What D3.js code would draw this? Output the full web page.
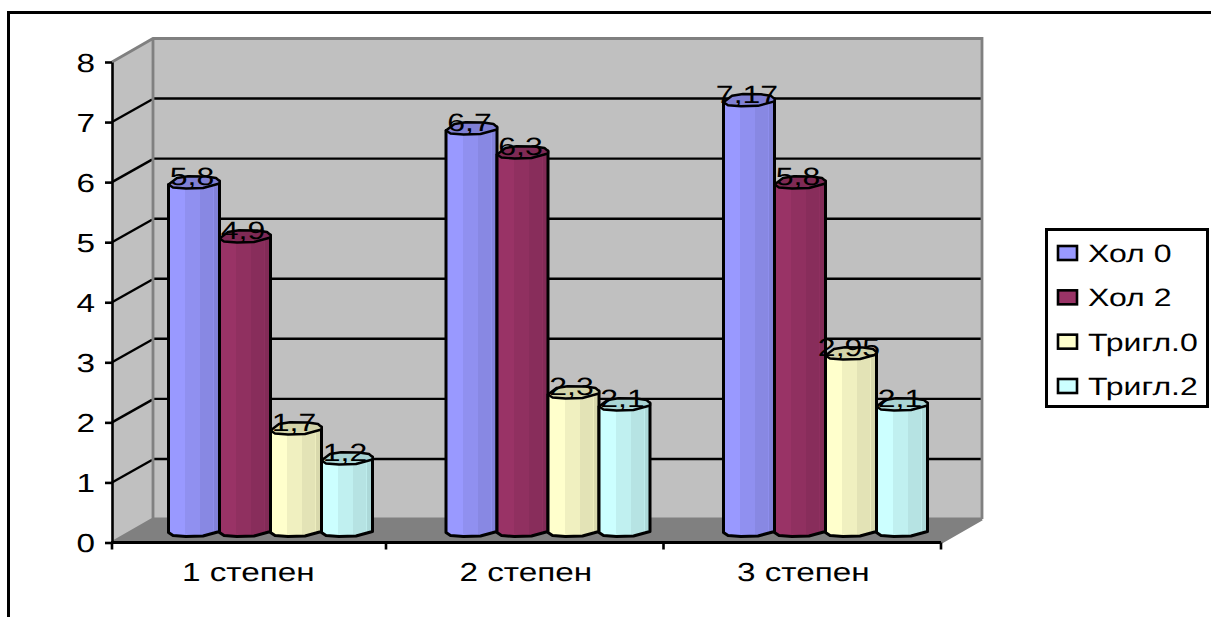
<!DOCTYPE html>
<html>
<head>
<meta charset="utf-8">
<script src="https://cdn.jsdelivr.net/npm/d3@7/dist/d3.min.js"></script>
<style>
  html, body { margin: 0; padding: 0; background: #fff; }
  svg { display: block; }
  text { font-family: "Liberation Sans", Arial, sans-serif; fill: #000; text-rendering: geometricPrecision; }
</style>
</head>
<body>
<svg id="chart" width="1211" height="617"></svg>
<script>
// Chart data
const categories = ["1 степен", "2 степен", "3 степен"];
const seriesNames = ["Хол 0", "Хол 2", "Тригл.0", "Тригл.2"];
const hol0 = [5.8, 6.7, 7.17];
const hol2 = [4.9, 6.3, 5.8];
const trig0 = [1.7, 2.3, 2.95];
const trig2 = [1.2, 2.1, 2.1];
const seriesValues = [hol0, hol2, trig0, trig2];
const seriesColors = ["#9999FF", "#993366", "#FFFFCC", "#CCFFFF"];
const yTicks = [0, 1, 2, 3, 4, 5, 6, 7, 8];

// Oblique box: the back wall is the front plane shifted right and up
const depthX = 41, depthY = 23.5;
const frontLeft = 112, frontRight = 941;
const yFront = d3.scaleLinear().domain([0, 8]).range([542.5, 62]);
const yBack = d3.scaleLinear().domain([0, 8]).range([542.5 - depthY, 62 - depthY]);
const yBar = d3.scaleLinear().domain([0, 8]).range([531, 51]);
const xFront = d3.scaleBand().domain(categories).range([108.5, frontRight]);
const xGroup = d3.scaleBand().domain(categories).range([frontLeft + 20.5, frontRight + 24]);
const xInner = d3.scaleBand().domain(seriesNames).range([36, 240]);

const svg = d3.select("#chart");
const stretch = 1.28;   // text in this chart is set wide

// Outer frame, open at the right and bottom
svg.append("path")
  .attr("d", "M8.5,617V12.5H1211")
  .attr("fill", "none").attr("stroke", "#000").attr("stroke-width", 3);

// Facet shading for the cylinders
const defs = svg.append("defs");
const shade = (c, k) => {
  const r = d3.rgb(c);
  return d3.rgb(r.r * k, r.g * k, r.b * k).formatHex();
};
seriesColors.forEach((c, i) => {
  const g = defs.append("linearGradient").attr("id", "facet" + i);
  [[0, 1], [0.33, 1], [0.33, 0.94], [0.62, 0.94], [0.62, 0.89], [0.88, 0.89],
   [0.88, 0.93], [0.895, 0.93], [0.895, 0.85], [1, 0.85]].forEach(([o, k]) => {
    g.append("stop").attr("offset", o).attr("stop-color", shade(c, k));
  });
});

// Walls and floor
const wallLeft = frontLeft + depthX, wallRight = frontRight + depthX;
svg.append("polygon")
  .attr("points", [[frontLeft, yFront(0)], [wallLeft, yBack(0)], [wallLeft, yBack(8)], [frontLeft, yFront(8)]].join(" "))
  .attr("fill", "#c0c0c0");
svg.append("rect")
  .attr("x", wallLeft).attr("y", yBack(8))
  .attr("width", wallRight - wallLeft).attr("height", yBack(0) - yBack(8))
  .attr("fill", "#c0c0c0");
svg.append("polygon")
  .attr("points", [[frontLeft, yFront(0)], [frontRight, yFront(0)], [wallRight, yBack(0)], [wallLeft, yBack(0)]].join(" "))
  .attr("fill", "#808080");

// Gridlines along the back wall and across the side wall
const grid = svg.append("g").attr("stroke", "#000").attr("stroke-width", 2.4);
yTicks.filter(v => v > 0 && v < 8).forEach(v => {
  grid.append("line").attr("x1", wallLeft).attr("x2", wallRight)
    .attr("y1", yBack(v)).attr("y2", yBack(v));
  grid.append("line").attr("x1", frontLeft).attr("x2", wallLeft - 1)
    .attr("y1", yFront(v)).attr("y2", yBack(v) + 1);
});

// Grey edges of the walls
svg.append("path")
  .attr("d", `M${frontLeft},${yFront(8)}L${wallLeft},${yBack(8)}H${wallRight}V${yBack(0)}` +
             `M${wallLeft},${yBack(8)}V${yBack(0)}L${frontLeft},${yFront(0)}M${wallLeft},${yBack(0)}H${wallRight}` +
             `M${wallRight},${yBack(0)}L${frontRight},${yFront(0)}`)
  .attr("fill", "none").attr("stroke", "#808080").attr("stroke-width", 2.8);

// Value axis
const yAxis = svg.append("g")
  .attr("transform", `translate(${frontLeft},0)`)
  .call(d3.axisLeft(yFront).tickValues(yTicks).tickSize(7).tickSizeOuter(0));
yAxis.selectAll("path, line").attr("stroke", "#000").attr("stroke-width", 2.6);
yAxis.selectAll("text")
  .attr("x", 0).attr("dy", "0.35em")
  .attr("transform", `translate(-17,0) scale(${stretch},1)`)
  .style("font-size", "26px").attr("fill", "#000");

// Category axis: ticks at the band edges, labels centred in each band
const xAxis = svg.append("g")
  .attr("transform", `translate(0,${yFront(0)})`)
  .call(d3.axisBottom(xFront).tickSize(0).tickSizeOuter(0));
xAxis.select("path").remove();
xAxis.selectAll("line").remove();
xAxis.selectAll("text")
  .attr("y", 0).attr("dy", 0)
  .attr("transform", `translate(1,38) scale(${stretch},1)`)
  .style("font-size", "26px").attr("fill", "#000");
svg.append("line")
  .attr("x1", frontLeft - 1).attr("x2", frontRight)
  .attr("y1", yFront(0)).attr("y2", yFront(0))
  .attr("stroke", "#000").attr("stroke-width", 3);
svg.append("g").selectAll("line")
  .data([frontLeft, ...categories.slice(1).map(c => xFront(c)), frontRight]).join("line")
  .attr("x1", d => d).attr("x2", d => d)
  .attr("y1", yFront(0)).attr("y2", yFront(0) + 7)
  .attr("stroke", "#000").attr("stroke-width", 2.6);

// Faceted outline of a cylinder, as offsets from the centre of its end cap
const lowerRim = [[-25.5, 1.5], [-21, 4.5], [-8, 5.5], [9, 5], [25.5, 0.5]];
const upperRim = [[25.5, -2], [22, -5], [12, -6.5], [-6, -6.8], [-17, -5], [-25.5, 1.5]];
const pts = (cx, cy, list) => list.map(([dx, dy]) => `${cx + dx},${cy + dy}`).join(" ");

const bars = svg.append("g");
categories.forEach((cat, ci) => {
  seriesNames.forEach((name, si) => {
    const value = seriesValues[si][ci];
    const cx = xGroup(cat) + xInner(name) + xInner.bandwidth() / 2;
    const top = yBar(value), base = yBar(0);
    // Body: from the end cap's widest points down to the bottom rim
    bars.append("polygon")
      .attr("points", pts(cx, top, [[-25.5, 1.5], [25.5, -2]]) + " " + pts(cx, base, lowerRim.slice().reverse()))
      .attr("fill", `url(#facet${si})`)
      .attr("stroke", "#000").attr("stroke-width", 3).attr("stroke-linejoin", "round");
    // End cap
    bars.append("polygon")
      .attr("points", pts(cx, top, lowerRim) + " " + pts(cx, top, upperRim))
      .attr("fill", shade(seriesColors[si], 0.83))
      .attr("stroke", "#000").attr("stroke-width", 2.4).attr("stroke-linejoin", "round");
  });
});

// Value labels sit on the end caps
const labels = svg.append("g");
categories.forEach((cat, ci) => {
  seriesNames.forEach((name, si) => {
    const value = seriesValues[si][ci];
    const cx = xGroup(cat) + xInner(name) + xInner.bandwidth() / 2;
    labels.append("text")
      .attr("transform", `translate(${cx - 2},${yBar(value) + 2}) scale(${stretch},1)`)
      .attr("text-anchor", "middle")
      .style("font-size", "25px")
      .attr("fill", "#1a1a1a")
      .text(String(value).replace(".", ","));
  });
});

// Legend
const legendY = d3.scalePoint().domain(seriesNames).range([253, 386]);
svg.append("rect")
  .attr("x", 1046.5).attr("y", 229.5).attr("width", 161).attr("height", 177)
  .attr("fill", "#fff").attr("stroke", "#000").attr("stroke-width", 3);
seriesNames.forEach((name, i) => {
  svg.append("rect")
    .attr("x", 1058).attr("y", legendY(name) - 7).attr("width", 19).attr("height", 14)
    .attr("fill", seriesColors[i]).attr("stroke", "#000").attr("stroke-width", 2.6);
  svg.append("text")
    .attr("transform", `translate(1088,${legendY(name) + 9}) scale(${stretch},1)`)
    .style("font-size", "25px")
    .text(name);
});
</script>
</body>
</html>
